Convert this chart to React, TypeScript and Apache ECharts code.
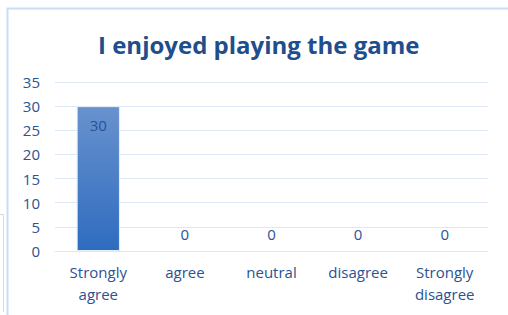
import React, { useEffect, useRef } from "react";
import * as echarts from "echarts";

const categories = ["Strongly\nagree", "agree", "neutral", "disagree", "Strongly\ndisagree"];
const values = [30, 0, 0, 0, 0];
const titleText = "I enjoyed playing the game";

export default function App() {
  const ref = useRef<HTMLDivElement>(null);
  useEffect(() => {
    const chart = echarts.init(ref.current!, undefined, { renderer: "svg" });
    const font = "'Open Sans', sans-serif";
    const labelColor = "#2B5294";
    chart.setOption({
      animation: false,
      backgroundColor: "#ffffff",
      title: {
        text: titleText,
        left: 93,
        top: 27,
        textStyle: { fontFamily: font, fontWeight: "bold", fontSize: 24, color: "#1F4E8C" },
      },
      graphic: [
        {
          type: "polyline",
          shape: { points: [[7.5, 315], [7.5, 8.5], [508, 8.5]] },
          style: { stroke: "#C9DDF3", lineWidth: 2, fill: "none" },
        },
        {
          type: "polyline",
          shape: { points: [[0, 214.5], [3.5, 214.5], [3.5, 312]] },
          style: { stroke: "#D8D8D8", lineWidth: 1, fill: "none" },
        },
      ],
      grid: { left: 55, right: 20, top: 82, bottom: 64 },
      xAxis: {
        type: "category",
        data: categories,
        axisLine: { show: true, lineStyle: { color: "#DCE8F6", width: 1 } },
        axisTick: { show: false },
        axisLabel: { fontFamily: font, fontSize: 15, color: labelColor, lineHeight: 22, margin: 10, verticalAlign: "top" },
      },
      yAxis: {
        type: "value",
        min: 0,
        max: 35,
        interval: 5,
        axisLine: { show: false },
        axisTick: { show: false },
        splitLine: { lineStyle: { color: "#DCE8F6", width: 1 } },
        axisLabel: { fontFamily: font, fontSize: 15, color: labelColor, margin: 15 },
      },
      series: [
        {
          type: "bar",
          data: values.map((v) => ({
            value: v,
            itemStyle: v === 0 ? { borderWidth: 0 } : undefined,
            label: v === 0 ? { position: "top", distance: 10 } : { position: "insideTop", distance: 11 },
          })),
          barWidth: "50%",
          itemStyle: {
            color: new echarts.graphic.LinearGradient(0, 0, 0, 1, [
              { offset: 0, color: "#6892CE" },
              { offset: 1, color: "#2F6CBF" },
            ]),
            borderColor: "#E4EEF9",
            borderWidth: 1,
          },
          label: {
            show: true,
            fontFamily: font,
            fontSize: 15,
            color: labelColor,
          },
        },
      ],
    });
    return () => chart.dispose();
  }, []);
  return <div ref={ref} style={{ width: 508, height: 315, position: "absolute", left: 0, top: 0 }} />;
}
